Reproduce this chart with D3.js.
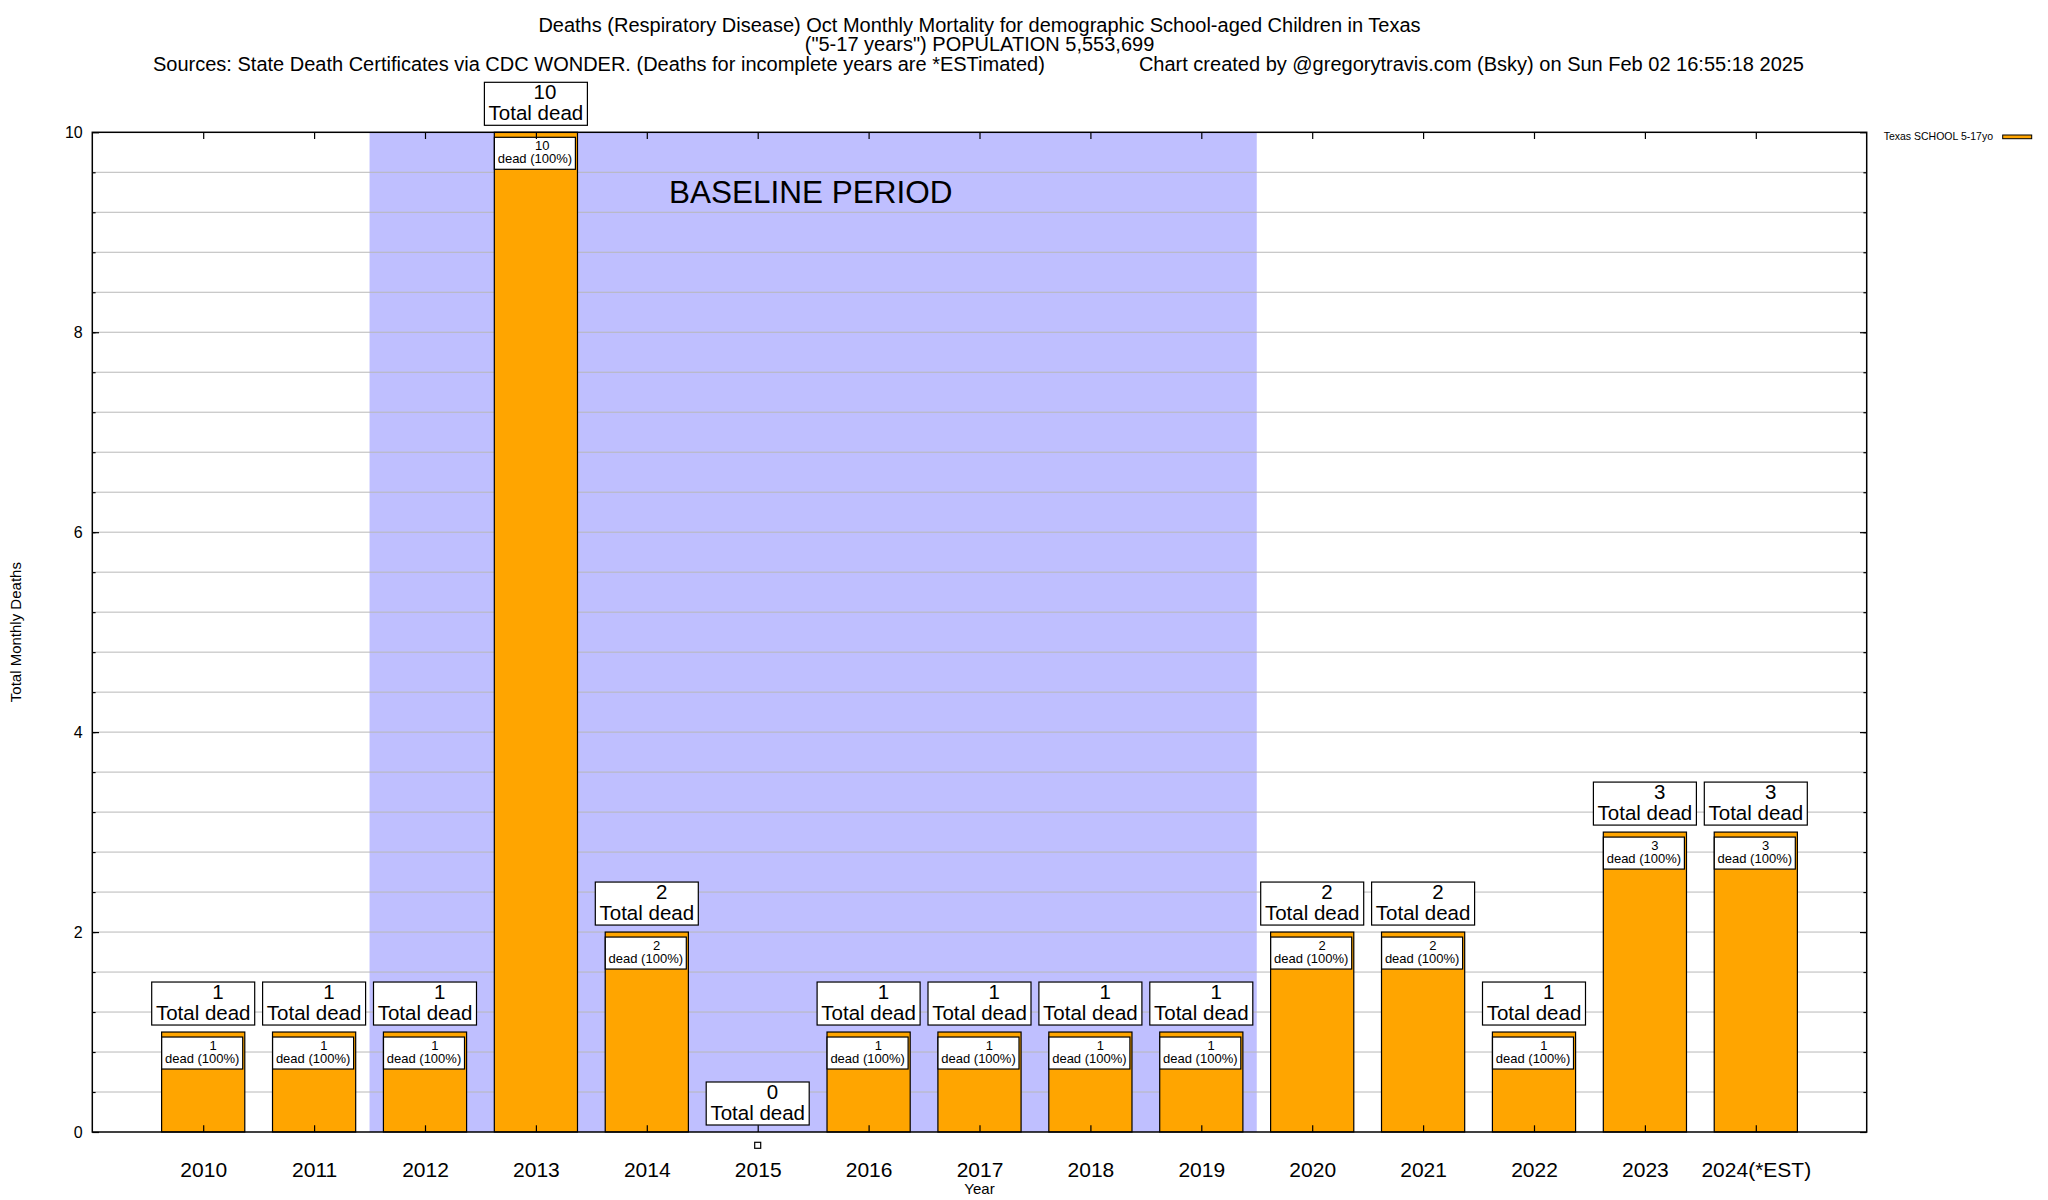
<!DOCTYPE html>
<html>
<head>
<meta charset="utf-8">
<script src="https://cdn.jsdelivr.net/npm/d3@7"></script>
<style>
  html, body { margin: 0; padding: 0; background: #ffffff; }
  svg { display: block; font-family: "Liberation Sans", Arial, Helvetica, sans-serif; }
</style>
</head>
<body>
<svg id="chart" width="2048" height="1200"></svg>
<script>
// ---- data ----
const years = ["2010","2011","2012","2013","2014","2015","2016","2017","2018","2019","2020","2021","2022","2023","2024(*EST)"];
const deaths = [1, 1, 1, 10, 2, 0, 1, 1, 1, 1, 2, 2, 1, 3, 3];
const shares = [100, 100, 100, 100, 100, 100, 100, 100, 100, 100, 100, 100, 100, 100, 100];
const yTickValues = [0, 2, 4, 6, 8, 10];
const baselineYears = ["2012", "2019"];
const titleLines = [
  "Deaths (Respiratory Disease) Oct Monthly Mortality for demographic School-aged Children in Texas",
  "(\"5-17 years\") POPULATION 5,553,699"
];
const sourceText = "Sources: State Death Certificates via CDC WONDER. (Deaths for incomplete years are *ESTimated)";
const creditText = "Chart created by @gregorytravis.com (Bsky) on Sun Feb 02 16:55:18 2025";
const legendLabel = "Texas SCHOOL 5-17yo";

// ---- layout ----
const W = 2048, H = 1200;
const pL = 92.3, pR = 1866.7, pT = 132.3, pB = 1132;
const svg = d3.select("#chart");
svg.append("rect").attr("width", W).attr("height", H).attr("fill", "#fff");

const x = d3.scaleLinear().domain([-1, years.length]).range([pL, pR]);
const y = d3.scaleLinear().domain([0, 10]).range([pB, pT]);
const idx = years.map((d, i) => i);
const barW = x(0.75) - x(0);

// baseline shading
const b0 = years.indexOf(baselineYears[0]), b1 = years.indexOf(baselineYears[1]);
svg.append("rect")
  .attr("x", x(b0 - 0.5)).attr("y", pT)
  .attr("width", x(b1 + 0.5) - x(b0 - 0.5)).attr("height", pB - pT)
  .attr("fill", "#bfbfff");

// grid (major + minor every 0.4)
const gridVals = d3.range(0.4, 10, 0.4);
svg.append("g").selectAll("line").data(gridVals).join("line")
  .attr("x1", pL).attr("x2", pR)
  .attr("y1", d => y(d)).attr("y2", d => y(d))
  .attr("stroke", "#b8b8b8").attr("stroke-width", 1);

// baseline label
svg.append("text")
  .attr("x", x(4.2)).attr("y", y(9.29))
  .attr("font-size", 31.5).attr("fill", "#000")
  .text("BASELINE PERIOD");

// bars
svg.append("g").selectAll("rect").data(idx.filter(i => deaths[i] > 0)).join("rect")
  .attr("x", i => x(i) - barW / 2).attr("y", i => y(deaths[i]))
  .attr("width", barW).attr("height", i => y(0) - y(deaths[i]))
  .attr("fill", "#ffa500").attr("stroke", "#000").attr("stroke-width", 1.2);

// inner labels
const inner = svg.append("g").selectAll("g").data(idx.filter(i => deaths[i] > 0)).join("g")
  .attr("transform", i => `translate(${x(i)},${y(deaths[i])})`);
inner.append("rect").attr("x", -41.5).attr("y", 5).attr("width", 81).attr("height", 32)
  .attr("fill", "#fff").attr("stroke", "#000").attr("stroke-width", 1.2);
inner.append("text").attr("x", 13.5).attr("y", 18).attr("text-anchor", "end")
  .attr("font-size", 13).text(i => deaths[i]);
inner.append("text").attr("x", -1).attr("y", 31).attr("text-anchor", "middle")
  .attr("font-size", 13).text(i => `dead (${shares[i]}%)`);

// outer labels
const outer = svg.append("g").selectAll("g").data(idx).join("g")
  .attr("transform", i => `translate(${x(i)},${y(deaths[i])})`);
outer.append("rect").attr("x", -51.5).attr("y", -50).attr("width", 103).attr("height", 43)
  .attr("fill", "#fff").attr("stroke", "#000").attr("stroke-width", 1.2);
outer.append("text").attr("x", 20.5).attr("y", -33).attr("text-anchor", "end")
  .attr("font-size", 20.5).text(i => deaths[i]);
outer.append("text").attr("x", 0).attr("y", -12).attr("text-anchor", "middle")
  .attr("font-size", 20.5).text("Total dead");

// marker for zero-value bars
svg.append("g").selectAll("rect").data(idx.filter(i => deaths[i] === 0)).join("rect")
  .attr("x", i => x(i) - 3).attr("y", y(0) + 10.3).attr("width", 6).attr("height", 6)
  .attr("fill", "#fff").attr("stroke", "#000").attr("stroke-width", 1.2);

// border
svg.append("rect").attr("x", pL).attr("y", pT)
  .attr("width", pR - pL).attr("height", pB - pT)
  .attr("fill", "none").attr("stroke", "#000").attr("stroke-width", 1.5);

// axes
function styleAxis(g) {
  g.select(".domain").remove();
  g.selectAll(".tick line").attr("stroke", "#000").attr("stroke-width", 1.2);
  g.selectAll("text").attr("fill", "#000").attr("font-family", "'Liberation Sans', Arial, Helvetica, sans-serif");
}
svg.append("g").attr("transform", `translate(${pL},0)`)
  .call(d3.axisLeft(y).tickValues(yTickValues).tickSize(-6.7).tickPadding(9.6).tickFormat(d3.format("d")))
  .call(styleAxis)
  .call(g => g.selectAll("text").attr("font-size", 16));
svg.append("g").attr("transform", `translate(${pL},0)`)
  .call(d3.axisLeft(y).tickValues(gridVals).tickSize(-3.3).tickFormat(""))
  .call(styleAxis);
svg.append("g").attr("transform", `translate(${pR},0)`)
  .call(d3.axisRight(y).tickValues(yTickValues).tickSize(-6.7).tickFormat(""))
  .call(styleAxis);
svg.append("g").attr("transform", `translate(${pR},0)`)
  .call(d3.axisRight(y).tickValues(gridVals).tickSize(-3.3).tickFormat(""))
  .call(styleAxis);
svg.append("g").attr("transform", `translate(0,${pB})`)
  .call(d3.axisBottom(x).tickValues(idx).tickSize(-6.7).tickPadding(29.8).tickFormat(i => years[i]))
  .call(styleAxis)
  .call(g => g.selectAll("text").attr("font-size", 21));
svg.append("g").attr("transform", `translate(0,${pT})`)
  .call(d3.axisTop(x).tickValues(idx).tickSize(-6.7).tickFormat(""))
  .call(styleAxis);

// axis titles
svg.append("text").attr("x", (pL + pR) / 2).attr("y", 1194)
  .attr("text-anchor", "middle").attr("font-size", 15).text("Year");
svg.append("text").attr("transform", `translate(21,${(pT + pB) / 2}) rotate(-90)`)
  .attr("text-anchor", "middle").attr("font-size", 15).text("Total Monthly Deaths");

// titles
svg.append("g").selectAll("text").data(titleLines).join("text")
  .attr("x", (pL + pR) / 2).attr("y", (d, i) => 31.5 + i * 19.8)
  .attr("text-anchor", "middle").attr("font-size", 20).text(d => d);
svg.append("text").attr("x", 153).attr("y", 71)
  .attr("font-size", 20).text(sourceText);
svg.append("text").attr("x", 1804).attr("y", 71).attr("text-anchor", "end")
  .attr("font-size", 20).text(creditText);

// legend
svg.append("text").attr("x", 1993).attr("y", 139.5).attr("text-anchor", "end")
  .attr("font-size", 10.5).text(legendLabel);
svg.append("rect").attr("x", 2002.7).attr("y", 135).attr("width", 29).attr("height", 3.7)
  .attr("fill", "#ffa500").attr("stroke", "#000").attr("stroke-width", 1);
</script>
</body>
</html>
